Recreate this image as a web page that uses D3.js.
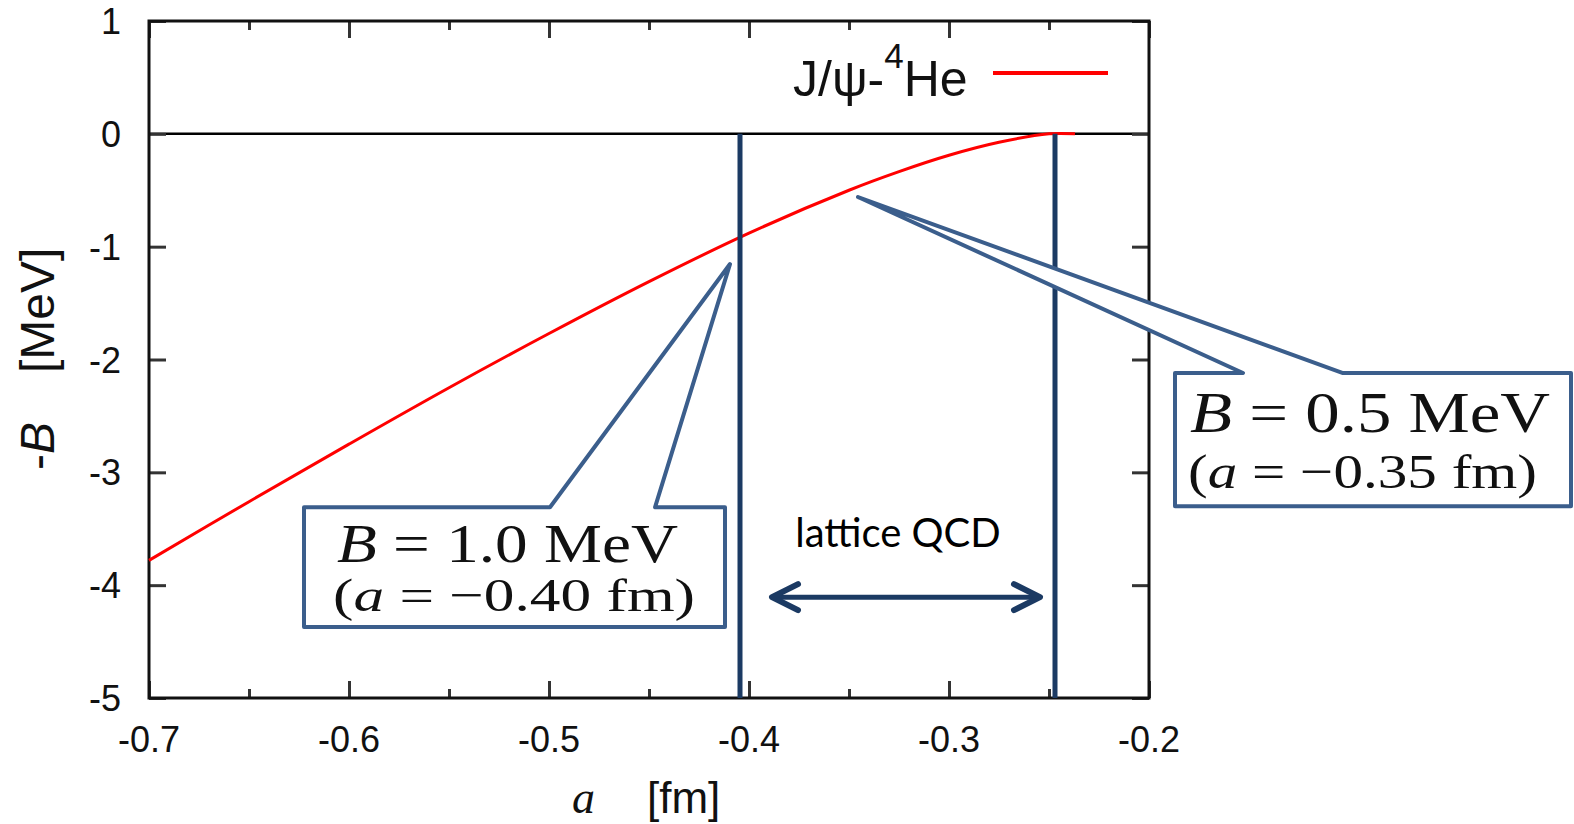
<html>
<head>
<meta charset="utf-8">
<style>
  body { margin: 0; background: white; }
  text { white-space: pre; }
  .tick-label { font: 36px "Liberation Sans", Arial, sans-serif; fill: #111; }
</style>
<script src="https://d3js.org/d3.v7.min.js"></script>
</head>
<body>
<script>
// J/psi - 4He binding curve, -B vs scattering length a
var aVals = [-0.70, -0.65, -0.60, -0.55, -0.50, -0.45, -0.40, -0.35, -0.325, -0.30, -0.275, -0.25, -0.237];
var bVals = [-3.78, -3.26, -2.75, -2.25, -1.77, -1.31, -0.88, -0.50, -0.335, -0.19, -0.075, 0.0, 0.0];

var xTicks = [-0.7, -0.6, -0.5, -0.4, -0.3, -0.2];
var xMinor = [-0.65, -0.55, -0.45, -0.35, -0.25];
var yTicks = [1, 0, -1, -2, -3, -4, -5];

// lattice QCD window (vertical lines)
var latticeBounds = [-0.4045, -0.247];

// callouts, in data units
var callouts = [
  { box: [-0.6225, -0.412, -3.31, -4.37], base: [-0.4995, -0.447], tip: [-0.4095, -1.154],
    line1: ["B", " = 1.0 MeV"], line2: ["(", "a", " = \u22120.40 fm)"],
    t1: [-0.606, -3.795], t2: [-0.608, -4.23], w1: 341, w2: 362, f1: 54, f2: 47 },
  { box: [-0.187, 0.011, -2.12, -3.30], base: [-0.153, -0.103], tip: [-0.3455, -0.56],
    line1: ["B", " = 0.5 MeV"], line2: ["(", "a", " = \u22120.35 fm)"],
    t1: [-0.1795, -2.643], t2: [-0.1805, -3.14], w1: 360, w2: 349, f1: 57, f2: 49 }
];

var W = 1574, H = 824;
var x = d3.scaleLinear().domain([-0.7, -0.2]).range([149, 1149]);
var y = d3.scaleLinear().domain([-5, 1]).range([698, 21]);

var svg = d3.select("body").append("svg").attr("width", W).attr("height", H);

var navy = "#1b3a63", steel = "#3b5e8c";

// zero line
svg.append("line")
  .attr("x1", x(-0.7)).attr("x2", x(-0.2))
  .attr("y1", y(0)).attr("y2", y(0))
  .attr("stroke", "#000").attr("stroke-width", 2.5);

// ticks, all pointing inward
function tickStyle(g) {
  g.select(".domain").remove();
  g.selectAll(".tick line").attr("stroke", "#333").attr("stroke-width", 3);
}
svg.append("g").attr("transform", "translate(0," + y(-5) + ")")
  .call(d3.axisBottom(x).tickValues(xMinor).tickSize(-9).tickFormat("")).call(tickStyle);
svg.append("g").attr("transform", "translate(0," + y(1) + ")")
  .call(d3.axisTop(x).tickValues(xMinor).tickSize(-9).tickFormat("")).call(tickStyle);
svg.append("g").attr("transform", "translate(0," + y(-5) + ")")
  .call(d3.axisBottom(x).tickValues(xTicks).tickSize(-17).tickFormat("")).call(tickStyle);
svg.append("g").attr("transform", "translate(0," + y(1) + ")")
  .call(d3.axisTop(x).tickValues(xTicks).tickSize(-17).tickFormat("")).call(tickStyle);
svg.append("g").attr("transform", "translate(" + x(-0.7) + ",0)")
  .call(d3.axisLeft(y).tickValues(yTicks).tickSize(-17).tickFormat("")).call(tickStyle);
svg.append("g").attr("transform", "translate(" + x(-0.2) + ",0)")
  .call(d3.axisRight(y).tickValues(yTicks).tickSize(-17).tickFormat("")).call(tickStyle);

// tick labels (plain hyphen minus, like the original)
svg.selectAll(".xl").data(xTicks).enter().append("text")
  .attr("class", "tick-label")
  .attr("x", function(d) { return x(d); }).attr("y", 752)
  .attr("text-anchor", "middle")
  .text(function(d) { return d.toFixed(1); });
svg.selectAll(".yl").data(yTicks).enter().append("text")
  .attr("class", "tick-label")
  .attr("x", 121).attr("y", function(d) { return y(d) + 13; })
  .attr("text-anchor", "end")
  .text(function(d) { return String(d); });

// frame
svg.append("rect")
  .attr("x", x(-0.7)).attr("y", y(1))
  .attr("width", x(-0.2) - x(-0.7)).attr("height", y(-5) - y(1))
  .attr("fill", "none").attr("stroke", "#111").attr("stroke-width", 3);

// curve
var pts = aVals.map(function(a, i) { return [a, bVals[i]]; });
var line = d3.line()
  .x(function(d) { return x(d[0]); })
  .y(function(d) { return y(d[1]); })
  .curve(d3.curveCatmullRom.alpha(0.5));
svg.append("path").datum(pts)
  .attr("d", line).attr("fill", "none")
  .attr("stroke", "#ff0000").attr("stroke-width", 3);

// legend
var leg = svg.append("text").attr("x", 793).attr("y", 96)
  .style("font", "50px 'Liberation Sans', Arial, sans-serif").attr("fill", "#111");
leg.append("tspan").text("J/\u03c8-");
leg.append("tspan").attr("dy", -28).style("font-size", "35px").text("4");
leg.append("tspan").attr("dy", 28).text("He");
svg.append("line").attr("x1", 993).attr("x2", 1108).attr("y1", 73).attr("y2", 73)
  .attr("stroke", "#ff0000").attr("stroke-width", 4);

// lattice QCD vertical lines
svg.selectAll(".vl").data(latticeBounds).enter().append("line")
  .attr("x1", function(d) { return x(d); }).attr("x2", function(d) { return x(d); })
  .attr("y1", y(0)).attr("y2", y(-5))
  .attr("stroke", navy).attr("stroke-width", 5);

// double arrow + label
var arrA = [-0.3885, -0.2545], arrB = -4.106;
var ay = y(arrB);
svg.append("line").attr("x1", x(arrA[0]) + 2).attr("x2", x(arrA[1]) - 2)
  .attr("y1", ay).attr("y2", ay)
  .attr("stroke", navy).attr("stroke-width", 5);
[[x(arrA[0]), 1], [x(arrA[1]), -1]].forEach(function(p) {
  svg.append("path")
    .attr("d", "M" + (p[0] + p[1] * 26) + "," + (ay - 13) + "L" + p[0] + "," + ay + "L" + (p[0] + p[1] * 26) + "," + (ay + 13))
    .attr("fill", "none").attr("stroke", navy).attr("stroke-width", 6)
    .attr("stroke-linecap", "round").attr("stroke-linejoin", "round");
});
svg.append("text").attr("x", x(-0.3255)).attr("y", y(-3.662))
  .attr("text-anchor", "middle")
  .style("font", "40px Lato, 'Open Sans', sans-serif").attr("fill", "#000")
  .text("lattice QCD");

// callouts
callouts.forEach(function(c) {
  var x0 = x(c.box[0]), x1 = x(c.box[1]), yt = y(c.box[2]), yb = y(c.box[3]);
  var b0 = x(c.base[0]), b1 = x(c.base[1]), tx = x(c.tip[0]), ty = y(c.tip[1]);
  var d = "M" + b0 + "," + yt + "L" + x0 + "," + yt + "L" + x0 + "," + yb +
          "L" + x1 + "," + yb + "L" + x1 + "," + yt + "L" + b1 + "," + yt +
          "L" + tx + "," + ty + "Z";
  svg.append("path").attr("d", d)
    .attr("fill", "white").attr("stroke", steel).attr("stroke-width", 4)
    .attr("stroke-linejoin", "round");

  var t1 = svg.append("text").attr("x", x(c.t1[0])).attr("y", y(c.t1[1]))
    .attr("textLength", c.w1).attr("lengthAdjust", "spacingAndGlyphs")
    .style("font", c.f1 + "px 'Liberation Serif', 'Times New Roman', serif").attr("fill", "#111");
  t1.append("tspan").style("font-style", "italic").text(c.line1[0]);
  t1.append("tspan").text(c.line1[1]);

  var t2 = svg.append("text").attr("x", x(c.t2[0])).attr("y", y(c.t2[1]))
    .attr("textLength", c.w2).attr("lengthAdjust", "spacingAndGlyphs")
    .style("font", c.f2 + "px 'Liberation Serif', 'Times New Roman', serif").attr("fill", "#111");
  t2.append("tspan").text(c.line2[0]);
  t2.append("tspan").style("font-style", "italic").text(c.line2[1]);
  t2.append("tspan").text(c.line2[2]);
});

// axis titles
svg.append("text").attr("x", 572).attr("y", 813)
  .style("font", "italic 46px 'Liberation Serif', serif").attr("fill", "#111").text("a");
svg.append("text").attr("x", 647).attr("y", 813)
  .style("font", "44px 'Liberation Sans', Arial, sans-serif").attr("fill", "#111").text("[fm]");

svg.append("text").attr("transform", "translate(54,470) rotate(-90)")
  .style("font", "48px 'Liberation Sans', Arial, sans-serif").attr("fill", "#111")
  .call(function(t) {
    t.append("tspan").text("-");
    t.append("tspan").style("font-style", "italic").text("B");
  });
svg.append("text").attr("transform", "translate(54,373) rotate(-90)")
  .style("font", "48px 'Liberation Sans', Arial, sans-serif").attr("fill", "#111")
  .text("[MeV]");
</script>
</body>
</html>
